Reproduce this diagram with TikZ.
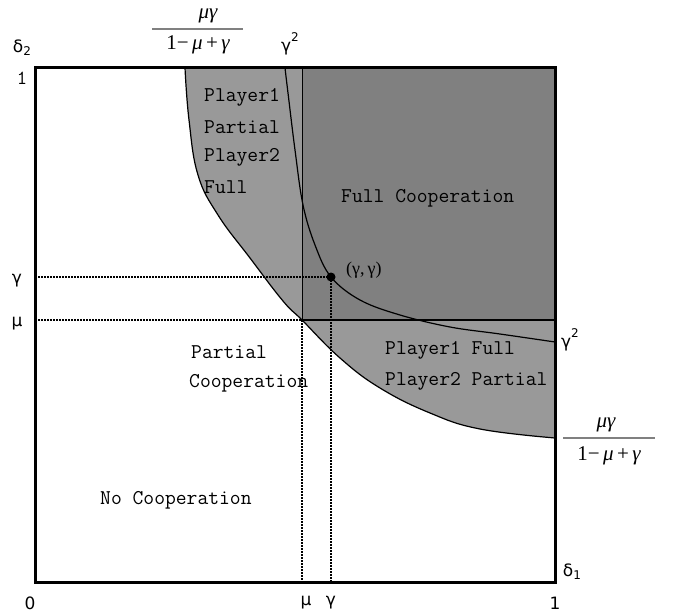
\documentclass[tikz,border=0pt]{standalone}
\usepackage{fontspec}
\newfontfamily\djfont{DejaVu Sans}
\newfontfamily\timesfont{Liberation Serif}
\definecolor{lightreg}{RGB}{153,153,153}
\definecolor{darkreg}{RGB}{128,128,128}
\begin{document}
\begin{tikzpicture}[x=1pt,y=-1pt,
  boxline/.style={line width=3pt},
  curveline/.style={line width=1.2pt},
  dotline/.style={line width=1.8pt, dash pattern=on 1.5pt off 1.5pt},
  regtext/.style={font=\ttfamily\fontsize{21}{23}\selectfont, inner sep=0pt, anchor=west},
  axtext/.style={font=\djfont\fontsize{17}{20}\selectfont, inner sep=0pt},
  mathtext/.style={font=\timesfont\fontsize{21}{24}\selectfont, inner sep=0pt}]
\useasboundingbox (0,0) rectangle (677,615);
% key coordinates
\coordinate (O) at (35,582);
\coordinate (TL) at (35,68);
\coordinate (TR) at (555,68);
\coordinate (BR) at (555,582);
\coordinate (MM) at (302,320);
\coordinate (MT) at (302,68);
\coordinate (MR) at (555,320);
\coordinate (GG) at (331,277);
\coordinate (Gy) at (35,277);
\coordinate (My) at (35,320);
\coordinate (Gx) at (331,582);
\coordinate (Mx) at (302,582);
% light region
\fill[lightreg] plot[smooth,tension=0.7] coordinates {(185,68) (189,120) (198,175) (218,215) (250,258) (283,301) (302,320) (340,358) (380,388) (430,413) (480,429) (555,438)} -- (TR) -- cycle;
% dark region
\fill[darkreg] (MM) rectangle (TR);
% curves
\draw[curveline] plot[smooth,tension=0.7] coordinates {(185,68) (189,120) (198,175) (218,215) (250,258) (283,301) (302,320) (340,358) (380,388) (430,413) (480,429) (555,438)};
\draw[curveline] plot[smooth,tension=0.6] coordinates {(285,68) (288,93) (295,150) (303,205) (315,245) (331,277) (360,300) (400,315) (450,327) (500,334) (555,342)};
% dark rectangle edges
\draw[line width=1pt] (MT) -- (MM);
\draw[line width=2pt] (MM) -- (MR);
% dotted guides
\draw[dotline] (Gy) -- (GG);
\draw[dotline] (GG) -- (Gx);
\draw[dotline] (My) -- (MM);
\draw[dotline] (MM) -- (Mx);
% box
\draw[boxline] (O) rectangle (TR);
% point
\fill (GG) circle (4.5pt);
% axis labels
\node[axtext] (d2) at (22,48) {δ\raisebox{-0.35ex}{\fontsize{12}{14}\selectfont 2}};
\node[font=\ttfamily\fontsize{20}{22}\selectfont, inner sep=0pt] (one2) at (22,78) {1};
\node[axtext] (gl) at (17,281) {γ};
\node[axtext] (ml) at (17,324) {μ};
\node[axtext] (zero) at (30,603) {0};
\node[axtext] (mb) at (306,603) {μ};
\node[axtext] (gb) at (331,603) {γ};
\node[axtext] (one1) at (555,603) {1};
\node[axtext] (d1) at (572,572) {δ\raisebox{-0.35ex}{\fontsize{12}{14}\selectfont 1}};
\node[axtext] (g2r) at (570,340) {γ\raisebox{1.1ex}{\fontsize{12}{14}\selectfont 2}};
\node[axtext] (g2t) at (290,44) {γ\raisebox{1.1ex}{\fontsize{12}{14}\selectfont 2}};
% fractions
\node[mathtext] (ftn) at (208,16) {\itshape μγ};
\draw[line width=1.2pt, gray] (152,29) -- (243,29);
\node[mathtext] (ftd) at (198,45) {1−\,{\itshape μ}\,+\,{\itshape γ}};
\node[mathtext] (frn) at (606,425) {\itshape μγ};
\draw[line width=1.2pt, gray] (563,438) -- (655,438);
\node[mathtext] (frd) at (609,456) {1−\,{\itshape μ}\,+\,{\itshape γ}};
% region texts
\node[regtext] (p1a) at (204,97) {Player1};
\node[regtext] (p1b) at (204,127) {Partial};
\node[regtext] (p1c) at (204,157) {Player2};
\node[regtext] (p1d) at (204,187) {Full};
\node[regtext] (fc) at (341,198) {Full Cooperation};
\node[font=\timesfont\fontsize{18}{20}\selectfont, inner sep=0pt, anchor=west] (gglab) at (346,270) {(γ,\,γ)};
\node[regtext] (pc1) at (191,352) {Partial};
\node[regtext] (pc2) at (189,383) {Cooperation};
\node[regtext] (pf1) at (385,350) {Player1 Full};
\node[regtext] (pf2) at (385,381) {Player2 Partial};
\node[regtext] (nc) at (100,500) {No Cooperation};
\end{tikzpicture}
\end{document}
